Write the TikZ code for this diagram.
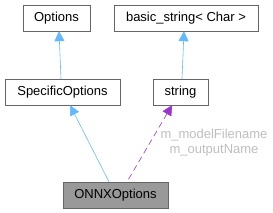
\documentclass[tikz,border=0pt]{standalone}
\usepackage{fontspec}
\setmainfont{Liberation Sans}
\usepackage{tikz}
\usetikzlibrary{arrows.meta,positioning,calc}
\definecolor{edgeblue}{HTML}{63B8FF}
\definecolor{edgepurple}{HTML}{9A32CD}
\definecolor{boxline}{HTML}{666666}
\definecolor{lblgray}{HTML}{BEBEBE}
\tikzset{
  cnode/.style={rectangle,draw=boxline,fill=white,minimum height=26pt,inner sep=2pt,font=\fontsize{13}{15}\selectfont},
  hnode/.style={cnode,fill=black!40},
  ie/.style={{Triangle[open,fill=edgeblue,length=10pt,width=10pt]}-,draw=edgeblue,semithick},
  ue/.style={{Triangle[fill=edgepurple,length=10pt,width=10pt]}-,draw=edgepurple,semithick,dash pattern=on 6pt off 4pt},
  lbl/.style={text=lblgray,font=\fontsize{13}{15}\selectfont,align=center,inner sep=0pt}
}
\begin{document}
\begin{tikzpicture}[x=1pt,y=-1pt]
\useasboundingbox (0,0) rectangle (273,213);
\node[cnode,minimum width=67pt]  (O)  at (56.5,18)  {Options};
\node[cnode,minimum width=144pt] (B)  at (186,18)   {basic\_string< Char >};
\node[cnode,minimum width=115pt] (SO) at (62.5,92)  {SpecificOptions};
\node[cnode,minimum width=55pt]  (S)  at (180.5,92) {string};
\node[hnode,minimum width=105pt] (N)  at (115.5,195) {ONNXOptions};
\draw[ie] (O.south -| 59,0) -- (SO.north -| 61,0);
\draw[ie] (B.south -| 184,0) -- (S.north -| 182,0);
\draw[ie] (SO.south -| 70,0) -- (N.north -| 109,0);
\draw[ue] (S.south -| 172,0) -- (N.north -| 127,0);
\node[lbl] (L) at (214,143) {m\_modelFilename\\m\_outputName};
\end{tikzpicture}
\end{document}
